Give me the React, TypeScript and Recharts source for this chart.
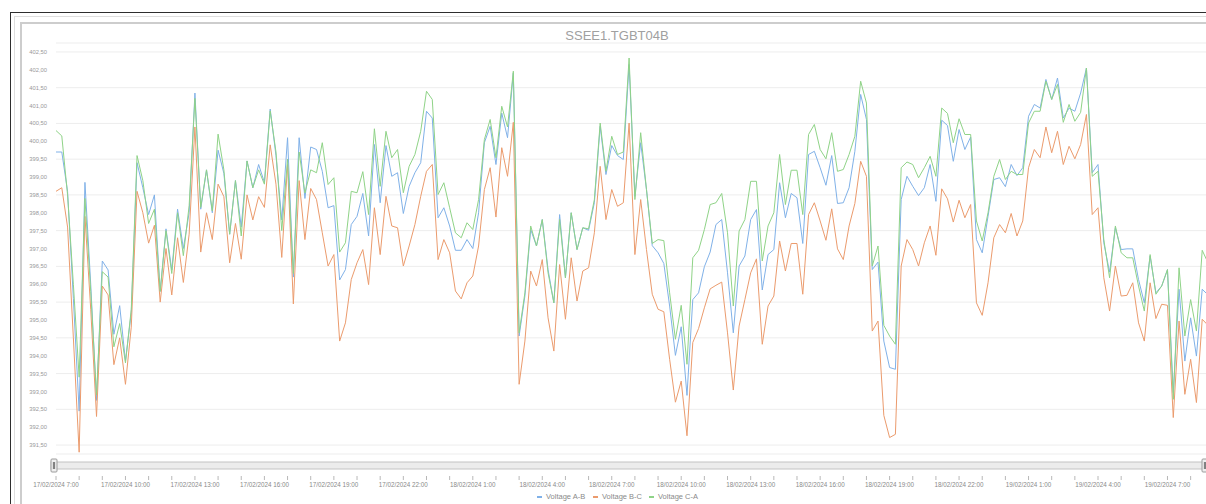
import React from 'react';
import { LineChart, Line, XAxis, YAxis, CartesianGrid, Legend, Brush } from 'recharts';

const chartTitle = 'SSEE1.TGBT04B';
const seriesNames = ['Voltage A-B', 'Voltage B-C', 'Voltage C-A'];
const seriesKeys = ['ab', 'bc', 'ca'];
const seriesColors = ['#80b1e8', '#eb9b6d', '#8fd387'];

// 15-minute samples starting 17/02/2024 7:00
const startDay = 17;
const startHour = 7;
const stepMinutes = 15;

const voltageAB = [
  399.70, 399.70, 398.60, 395.60, 392.45, 398.85, 396.00, 392.75, 396.65, 396.40,
  394.60, 395.40, 393.85, 395.20, 399.40, 398.70, 397.95, 398.50, 395.80, 397.55,
  396.40, 398.10, 397.00, 398.00, 401.35, 398.10, 399.20, 398.00, 399.75, 399.10,
  397.40, 398.90, 397.60, 399.45, 398.70, 399.35, 398.85, 400.90, 399.60, 397.80,
  400.10, 396.20, 400.10, 398.40, 399.84, 399.77, 399.16, 398.14, 398.20, 396.12,
  396.41, 397.67, 397.90, 398.54, 397.35, 399.91, 398.28, 399.88, 399.02, 399.12,
  397.98, 398.74, 399.12, 399.40, 400.84, 400.65, 397.86, 398.14, 397.63, 396.95,
  396.95, 397.25, 397.00, 398.00, 399.96, 400.42, 399.35, 400.79, 400.10, 401.91,
  394.55, 395.67, 397.53, 397.07, 397.81, 396.41, 395.48, 397.95, 396.18, 398.00,
  396.97, 397.58, 397.51, 398.28, 400.42, 399.07, 399.88, 399.60, 399.49, 402.15,
  398.46, 399.96, 398.65, 397.08, 396.88, 396.58, 395.39, 394.01, 394.81, 392.89,
  395.57, 395.76, 396.49, 396.90, 397.67, 397.81, 396.32, 394.64, 396.51, 396.79,
  397.81, 398.09, 395.84, 396.83, 396.97, 398.84, 397.86, 398.54, 398.42, 397.14,
  399.63, 399.72, 399.26, 398.77, 399.60, 398.26, 398.28, 398.70, 399.72, 401.31,
  400.61, 396.41, 396.62, 394.41, 393.67, 393.62, 398.37, 399.02, 398.74, 398.48,
  398.70, 399.35, 398.32, 400.59, 400.44, 399.44, 400.33, 399.77, 400.12, 397.25,
  396.88, 397.90, 398.93, 398.98, 398.73, 399.35, 399.04, 399.26, 400.70, 401.03,
  400.93, 401.73, 401.17, 401.77, 400.65, 400.93, 400.84, 401.35, 402.05, 399.12,
  399.35, 397.16, 396.34, 397.58, 396.97, 396.99, 396.99, 396.13, 395.48, 396.79,
  395.76, 395.95, 396.41, 392.97, 395.86, 393.85, 395.06, 393.99, 395.86, 395.70,
];

const voltageBC = [
  398.60, 398.70, 397.60, 394.50, 391.30, 397.90, 395.30, 392.30, 395.95, 395.70,
  393.75, 394.50, 393.20, 394.80, 398.60, 398.00, 397.15, 397.65, 395.50, 397.00,
  395.70, 397.30, 396.05, 397.40, 400.40, 396.90, 398.00, 397.25, 398.80, 398.45,
  396.60, 397.70, 396.70, 398.50, 397.80, 398.45, 398.15, 399.90, 398.80, 396.75,
  399.35, 395.45, 398.90, 397.25, 398.68, 398.37, 397.44, 396.51, 396.83, 394.41,
  394.92, 396.13, 396.60, 396.97, 395.99, 398.14, 396.83, 398.46, 397.63, 397.58,
  396.51, 397.07, 397.67, 398.46, 399.16, 399.35, 396.69, 397.25, 396.88, 395.81,
  395.59, 396.04, 396.23, 397.07, 398.65, 399.26, 397.88, 399.82, 399.02, 400.53,
  393.20, 394.41, 396.37, 395.95, 396.69, 395.06, 394.13, 396.55, 395.02, 396.74,
  395.53, 396.37, 396.46, 397.44, 399.30, 397.81, 398.65, 398.18, 398.28, 400.51,
  396.83, 398.37, 396.97, 395.72, 395.30, 395.23, 393.90, 392.70, 393.29, 391.76,
  394.37, 394.76, 395.34, 395.87, 395.97, 396.06, 394.64, 393.04, 394.83, 395.57,
  396.32, 396.71, 394.32, 395.39, 395.67, 397.21, 396.37, 397.14, 397.14, 395.72,
  397.95, 398.28, 397.77, 397.23, 398.11, 396.99, 396.69, 397.63, 398.26, 399.44,
  399.02, 394.69, 394.97, 392.33, 391.71, 391.80, 396.51, 397.25, 396.97, 396.51,
  397.16, 397.63, 396.81, 398.67, 398.39, 397.74, 398.35, 397.86, 398.23, 395.48,
  395.13, 396.04, 397.30, 397.67, 397.44, 397.98, 397.35, 397.77, 399.26, 399.77,
  399.54, 400.40, 399.68, 400.28, 399.35, 399.86, 399.51, 399.91, 400.75, 397.95,
  398.14, 396.18, 395.25, 396.51, 395.67, 395.69, 396.04, 394.92, 394.41, 396.04,
  395.04, 395.44, 395.41, 392.27, 394.97, 392.92, 393.90, 392.69, 395.02, 394.85,
];

const voltageCA = [
  400.30, 400.15, 398.50, 396.00, 393.40, 398.40, 395.80, 392.90, 396.35, 396.20,
  394.25, 394.90, 393.80, 395.30, 399.60, 398.90, 397.70, 398.10, 395.80, 397.50,
  396.30, 398.00, 396.80, 398.20, 401.20, 398.15, 399.20, 398.05, 400.20, 399.20,
  397.40, 398.90, 397.35, 399.45, 398.70, 399.20, 398.80, 400.85, 399.70, 397.50,
  399.50, 396.30, 399.70, 398.55, 399.20, 399.12, 399.96, 398.79, 398.98, 396.90,
  397.16, 398.60, 398.56, 399.15, 397.95, 400.35, 398.74, 400.28, 399.54, 399.77,
  398.56, 399.30, 399.63, 400.28, 401.40, 401.17, 398.51, 398.84, 398.14, 397.44,
  397.30, 397.72, 397.53, 398.37, 400.05, 400.61, 399.54, 400.98, 400.40, 401.96,
  394.64, 395.76, 397.63, 397.07, 397.81, 396.32, 395.48, 397.81, 396.18, 398.00,
  396.97, 397.58, 397.55, 398.37, 400.51, 399.16, 400.14, 399.63, 399.70, 402.33,
  398.37, 400.24, 398.65, 397.14, 397.25, 397.22, 395.76, 394.46, 395.41, 393.76,
  396.74, 396.95, 397.53, 398.23, 398.28, 398.54, 397.44, 395.39, 397.49, 397.81,
  398.88, 398.88, 396.65, 397.63, 398.00, 399.63, 398.23, 399.19, 399.19, 397.95,
  400.19, 400.47, 399.77, 399.51, 400.24, 399.16, 399.21, 399.63, 400.14, 401.68,
  401.07, 396.51, 397.07, 394.85, 394.55, 394.32, 399.26, 399.42, 399.35, 398.98,
  399.26, 399.58, 399.02, 400.93, 400.78, 399.96, 400.63, 400.19, 400.19, 397.77,
  397.21, 398.00, 399.02, 399.49, 398.93, 399.16, 399.07, 399.07, 400.51, 400.84,
  400.84, 401.68, 401.17, 401.59, 400.53, 401.03, 400.56, 400.81, 402.05, 399.02,
  399.16, 397.25, 396.18, 397.63, 396.88, 396.74, 396.74, 395.95, 395.25, 396.83,
  395.72, 395.95, 396.41, 392.78, 396.46, 394.55, 395.57, 394.69, 396.95, 396.60,
];

const yTicks = [
  391.5, 392, 392.5, 393, 393.5, 394, 394.5, 395, 395.5, 396, 396.5, 397,
  397.5, 398, 398.5, 399, 399.5, 400, 400.5, 401, 401.5, 402, 402.5,
];
const yDomain = [391.25, 402.75];

function timeLabel(i: number): string {
  const total = startHour * 60 + i * stepMinutes;
  const day = startDay + Math.floor(total / 1440);
  const m = total % 1440;
  const h = Math.floor(m / 60);
  const mm = m % 60;
  return `${day}/02/2024 ${h}:${String(mm).padStart(2, '0')}`;
}

const times = voltageAB.map((_, i) => timeLabel(i));
const data = times.map((t, i) => ({
  t,
  ab: voltageAB[i],
  bc: voltageBC[i],
  ca: voltageCA[i],
}));

const FONT = '"Liberation Sans", Arial, sans-serif';

const XTick = (props: any) => {
  const { x, y, payload } = props;
  const idx = times.indexOf(payload.value);
  const showLabel = idx % 12 === 0;
  return (
    <g>
      <line x1={x} x2={x} y1={y + 22} y2={y + 26} stroke="#b8b8b8" strokeWidth={1} />
      {showLabel && (
        <text x={x} y={y + 32.5} textAnchor="middle" fontSize={6.3} fill="#8a8a8a" fontFamily={FONT}>
          {payload.value}
        </text>
      )}
    </g>
  );
};

const Traveller = (props: any) => {
  const { x, y, width, height } = props;
  return (
    <g>
      <rect x={x} y={y - 3} width={width} height={height + 6} rx={1} fill="#efefef" stroke="#9c9c9c" strokeWidth={1} />
      <line x1={x + width / 2 - 0.6} x2={x + width / 2 - 0.6} y1={y} y2={y + height} stroke="#555" strokeWidth={0.8} />
      <line x1={x + width / 2 + 0.6} x2={x + width / 2 + 0.6} y1={y} y2={y + height} stroke="#555" strokeWidth={0.8} />
    </g>
  );
};

const LegendContent = () => (
  <div style={{ display: 'flex', fontFamily: FONT, fontSize: 7.5, color: '#8a8a8a', lineHeight: '14px', whiteSpace: 'nowrap' }}>
    {seriesNames.map((n, i) => (
      <span key={n} style={{ display: 'inline-block', width: 56 }}>
        <span
          style={{
            display: 'inline-block',
            width: 5,
            height: 1.5,
            background: seriesColors[i],
            verticalAlign: 'middle',
            marginRight: 4,
          }}
        />
        {n}
      </span>
    ))}
  </div>
);

const frameBase: React.CSSProperties = {
  position: 'absolute',
  width: 1400,
  height: 700,
  boxSizing: 'border-box',
  borderRight: 'none',
  borderBottom: 'none',
};

export default function App() {
  return (
    <div style={{ position: 'fixed', left: 0, top: 0, width: 1206, height: 504, overflow: 'hidden', background: '#fff' }}>
      <div style={{ ...frameBase, left: 10, top: 12, borderLeft: '1px solid #2e2e2e', borderTop: '1px solid #2e2e2e' }} />
      <div style={{ ...frameBase, left: 14, top: 16, borderLeft: '1px solid #dedede', borderTop: '1px solid #dedede' }} />
      <div style={{ ...frameBase, left: 20, top: 22, borderLeft: '2px solid #cdcdcd', borderTop: '2px solid #cdcdcd' }} />
      <div
        style={{
          position: 'absolute',
          left: 0,
          top: 28,
          width: 1234,
          textAlign: 'center',
          fontFamily: FONT,
          fontSize: 13,
          lineHeight: '16px',
          color: '#a0a0a0',
        }}
      >
        {chartTitle}
      </div>
      <div style={{ position: 'absolute', left: 0, top: 0 }}>
        <LineChart width={1230} height={504} data={data} margin={{ top: 43, right: 22, left: 0, bottom: 0 }}>
          <CartesianGrid vertical={false} stroke="#ededed" strokeWidth={1} />
          <XAxis
            dataKey="t"
            interval={3}
            height={29}
            axisLine={false}
            tickLine={false}
            tickSize={0}
            tickMargin={0}
            tick={<XTick />}
          />
          <YAxis
            width={56}
            domain={yDomain}
            ticks={yTicks}
            type="number"
            axisLine={false}
            tickLine={false}
            tickSize={0}
            tickMargin={9}
            tickFormatter={(v: number) => v.toFixed(2).replace('.', ',')}
            tick={{ fontSize: 5.8, fill: '#999', fontFamily: FONT }}
          />
          {seriesKeys.map((k, i) => (
            <Line
              key={k}
              type="linear"
              dataKey={k}
              name={seriesNames[i]}
              stroke={seriesColors[i]}
              strokeWidth={1}
              dot={false}
              activeDot={false}
              isAnimationActive={false}
            />
          ))}
          <Brush
            dataKey="t"
            x={51}
            y={462}
            width={1157}
            height={7}
            travellerWidth={6}
            stroke="#c4c4c4"
            fill="#f7f7f7"
            traveller={(p: any) => <Traveller {...p} />}
          />
          <Legend
            verticalAlign="bottom"
            content={<LegendContent />}
            wrapperStyle={{ left: 537, width: 200, height: 14, bottom: 0 }}
          />
        </LineChart>
      </div>
    </div>
  );
}
